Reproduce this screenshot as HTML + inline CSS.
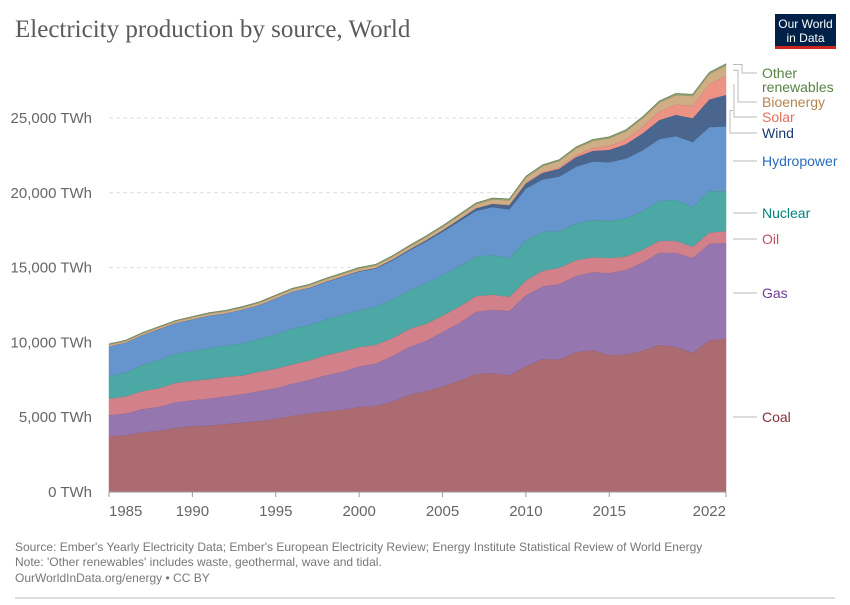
<!DOCTYPE html>
<html><head><meta charset="utf-8"><style>
body{margin:0;background:#fff;}
svg text{font-family:"Liberation Sans",sans-serif;}
</style></head><body>
<svg width="850" height="600" viewBox="0 0 850 600">
<text x="15" y="37" font-family="Liberation Serif" font-size="25" fill="#5b5b5b" style="font-family:'Liberation Serif',serif">Electricity production by source, World</text>
<g>
<rect x="775" y="14" width="61" height="35" fill="#002147"/>
<rect x="775" y="46" width="61" height="3" fill="#ce261e"/>
<text x="805.5" y="28" font-size="12" fill="#fff" text-anchor="middle">Our World</text>
<text x="805.5" y="42" font-size="12" fill="#fff" text-anchor="middle">in Data</text>
</g>
<g id="grid"></g>
<g id="areas"></g>
<g id="axes"></g>
<g id="labels"></g>
<text x="15" y="551" font-size="12" fill="#777">Source: Ember's Yearly Electricity Data; Ember's European Electricity Review; Energy Institute Statistical Review of World Energy</text>
<text x="15" y="566" font-size="12" fill="#777">Note: 'Other renewables' includes waste, geothermal, wave and tidal.</text>
<text x="15" y="582" font-size="12" fill="#777">OurWorldInData.org/energy • CC BY</text>
<line x1="15" y1="598" x2="835" y2="598" stroke="#bbb" stroke-width="1"/>
</svg>
<script>
const years=[];for(let y=1985;y<=2022;y++)years.push(y);
const coal=[3750,3800,4000,4100,4300,4400,4450,4550,4650,4750,4900,5100,5250,5400,5500,5700,5750,6050,6500,6750,7050,7450,7900,7950,7800,8400,8900,8850,9350,9500,9150,9200,9450,9850,9700,9300,10150,10250];
const gas=[1400,1450,1550,1600,1700,1750,1800,1850,1900,2000,2050,2150,2250,2400,2550,2700,2850,3050,3200,3350,3650,3850,4150,4250,4300,4750,4850,5050,5100,5200,5500,5650,5900,6150,6300,6350,6450,6400];
const oil=[1100,1150,1200,1250,1300,1300,1300,1300,1250,1300,1300,1300,1300,1350,1350,1300,1250,1200,1200,1150,1100,1100,1050,1000,950,1000,1050,1100,1050,1000,1000,900,850,800,800,750,750,800];
const nuclear=[1500,1600,1750,1900,1950,2000,2100,2100,2150,2200,2300,2400,2350,2400,2450,2450,2550,2600,2600,2700,2700,2700,2650,2650,2600,2700,2600,2450,2450,2500,2500,2550,2600,2650,2750,2650,2800,2650];
const hydro=[2000,2000,2000,2050,2050,2100,2150,2150,2250,2250,2400,2450,2500,2500,2550,2600,2550,2600,2650,2800,2900,3000,3050,3200,3250,3450,3500,3650,3800,3900,3900,4000,4050,4150,4250,4350,4250,4350];
const wind=[0,0,0,0,0,4,4,5,6,7,8,9,12,16,21,31,38,52,63,85,104,133,170,220,277,342,440,520,640,710,830,960,1130,1270,1420,1590,1850,2100];
const solar=[0,0,0,0,0,0,0,0,0,0,0,0,0,1,1,1,2,2,3,3,4,6,8,12,20,32,64,100,140,190,260,330,450,580,700,840,1030,1290];
const bio=[100,105,110,115,120,125,130,135,140,145,150,150,155,160,160,160,165,175,190,200,220,240,260,290,310,350,380,410,440,470,510,530,560,590,620,650,670,680];
const other=[40,42,44,46,48,50,52,54,56,58,60,62,64,65,66,67,68,70,72,74,76,78,80,82,84,86,88,90,92,94,96,98,100,102,104,106,108,110];
const yTicks=[0,5000,10000,15000,20000,25000];
const xTicks=[1985,1990,1995,2000,2005,2010,2015,2022];
const series=[
 {name:'Coal',data:coal,fill:'#ab6b70',text:'#883039',ly:417},
 {name:'Gas',data:gas,fill:'#9676ae',text:'#6d3e91',ly:293},
 {name:'Oil',data:oil,fill:'#d2808a',text:'#c15065',ly:239},
 {name:'Nuclear',data:nuclear,fill:'#4ca8a4',text:'#00847e',ly:213},
 {name:'Hydropower',data:hydro,fill:'#6695cd',text:'#286bbb',ly:161},
 {name:'Wind',data:wind,fill:'#4a668f',text:'#1b3a6b',ly:133},
 {name:'Solar',data:solar,fill:'#ed9385',text:'#e56e5a',ly:117},
 {name:'Bioenergy',data:bio,fill:'#cfad85',text:'#b7834d',ly:102},
 {name:'Other renewables',data:other,fill:'#8ea473',text:'#578145',ly:73}
];
const X0=109,X1=726,Y0=492,YS=374/25000;
const x=y=>X0+(y-1985)*(X1-X0)/(2022-1985);
const yv=v=>Y0-v*YS;
const NS='http://www.w3.org/2000/svg';
function mk(t,a,p){const e=document.createElementNS(NS,t);for(const k in a)e.setAttribute(k,a[k]);p.appendChild(e);return e;}
const grid=document.getElementById('grid'),axes=document.getElementById('axes'),areas=document.getElementById('areas'),labels=document.getElementById('labels');
yTicks.forEach(v=>{
 if(v>0){const l=mk('line',{x1:X0,x2:X1,y1:yv(v),y2:yv(v),stroke:'#ddd','stroke-dasharray':'4,3'},grid);
 
 }
 const t=mk('text',{x:92,y:yv(v)+5,'font-size':15,fill:'#666','text-anchor':'end'},axes);
 t.textContent=v.toLocaleString('en-US')+' TWh';
 
 
});
let base=years.map(()=>0);
series.forEach(s=>{
 const top=base.map((b,i)=>b+s.data[i]);
 let d='M'+years.map((y,i)=>x(y)+','+yv(top[i])).join('L');
 d+='L'+years.slice().reverse().map((y,j)=>{const i=years.length-1-j;return x(y)+','+yv(base[i]);}).join('L')+'Z';
 const p=mk('path',{d:d,fill:s.fill,stroke:s.fill,'stroke-width':0.5},areas);
 
 
 const ln=mk('path',{d:'M'+years.map((y,i)=>x(y)+','+yv(top[i])).join('L'),fill:'none',stroke:'rgba(0,0,0,0.25)','stroke-width':0.8},areas);
 
 
 s.mid=yv((base[base.length-1]+top[top.length-1])/2);
 base=top;
});
mk('line',{x1:X0,x2:X1,y1:Y0,y2:Y0,stroke:'#999'},axes);
xTicks.forEach((yr,i)=>{
 mk('line',{x1:x(yr),x2:x(yr),y1:Y0,y2:Y0+5,stroke:'#999'},axes);
 const anchor=i==0?'start':(i==xTicks.length-1?'end':'middle');
 const t=mk('text',{x:x(yr),y:516,'font-size':15,fill:'#666','text-anchor':anchor},axes);
 t.textContent=yr;
 
 
});
series.forEach((s,i)=>{
 const ty=s.ly;
 const g=mk('g',{},labels);
 
 
 if(i<5){
  mk('line',{x1:733,x2:757,y1:ty,y2:ty,stroke:'#bbb'},g);
 } else {
  const ex=[744,748,752,756][i-5];
  mk('path',{d:`M733,${s.mid}H${ex-14}V${ty}H757`,fill:'none',stroke:'#bbb'},g);
 }
 const t=mk('text',{x:762,y:ty+5,'font-size':14,fill:s.text},g);
 if(s.name==='Other renewables'){t.textContent='Other';const t2=mk('text',{x:762,y:ty+19,'font-size':14,fill:s.text},g);t2.textContent='renewables';}
 else t.textContent=s.name;
});
</script>
</body></html>
